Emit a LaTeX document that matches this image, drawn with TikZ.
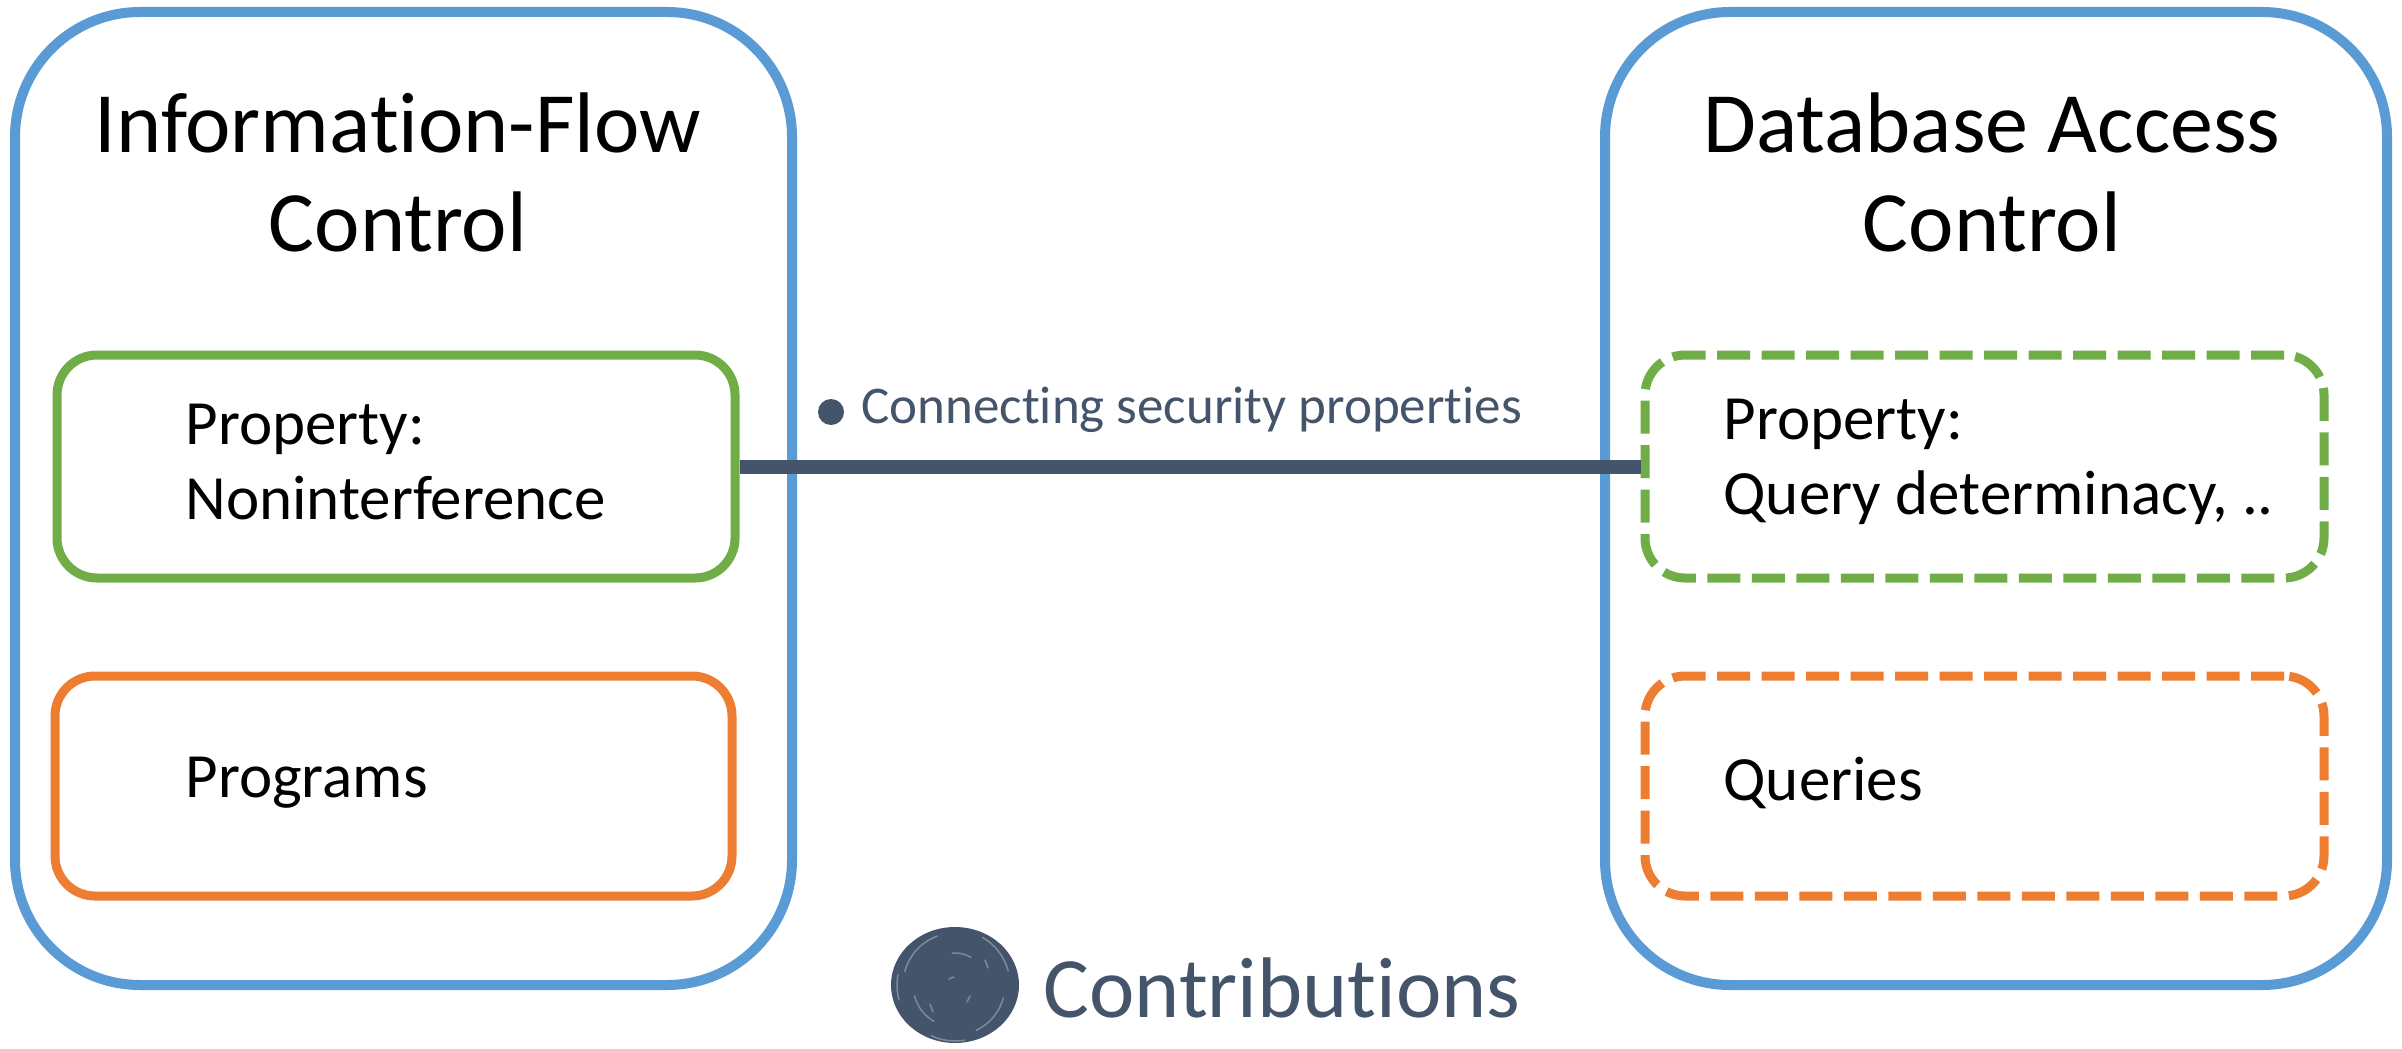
\documentclass[tikz,border=0pt]{standalone}
\usepackage{fontspec}
\setmainfont{Carlito}[Ligatures=NoCommon]
\definecolor{frameblue}{HTML}{5B9BD5}
\definecolor{propgreen}{HTML}{70AD47}
\definecolor{langorange}{HTML}{ED7D31}
\definecolor{slate}{HTML}{44546A}
\definecolor{slatelight}{HTML}{A3AEBE}
\tikzset{
  area/.style={draw=frameblue, line width=10pt, rounded corners=125pt, minimum width=#1},
  innerbox/.style={line width=9pt, rounded corners=40pt},
  dashbox/.style={innerbox, dash pattern=on 33pt off 11.5pt},
  title/.style={font=\fontsize{86}{99}\selectfont, align=center, text=black},
  body/.style={font=\fontsize{63}{75}\selectfont, align=left, anchor=west, text=black},
}
\begin{document}
\begin{tikzpicture}[x=1pt, y=-1pt]
\useasboundingbox (0,0) rectangle (2402,1049);
\fill[white] (0,0) rectangle (2402,1049);

% the two fields
\node[area=777pt, minimum height=973pt] (ifc) at (403.5,498.5) {};
\node[area=782pt, minimum height=973pt] (dac) at (1996,498.5) {};
\node[title] (ifctitle) at (398,172) {Information-Flow\\Control};
\node[title] (dactitle) at (1992,172) {Database Access\\Control};

% properties and languages, left side
\node[innerbox, draw=propgreen, minimum width=678pt, minimum height=223pt] (ifprop) at (396,466.5) {};
\node[innerbox, draw=langorange, minimum width=677pt, minimum height=220pt] (iflang) at (393.5,786) {};
\node[body] (ifproptext) at (182,462) {Property:\\Noninterference};
\node[body] (iflangtext) at (182,783) {Programs};

% properties and languages, right side
\node[dashbox, draw=propgreen, minimum width=679pt, minimum height=223pt] (dbprop) at (1984.5,466.5) {};
\node[dashbox, draw=langorange, minimum width=679pt, minimum height=220pt] (dblang) at (1984.5,786) {};
\node[body] (dbproptext) at (1720,462) {Property:\\Query determinacy, ..};
\node[body] (dblangtext) at (1720,783) {Queries};

% the connection
\draw[slate, line width=14pt] (ifprop.east) -- (dbprop.west);
\fill[slate] (831,412) circle (13pt);
\node[anchor=west, text=slate, font=\fontsize{53}{60}\selectfont] (conn) at (858,410) {Connecting security properties};

% legend: a hand-shaded disc
\fill[slate] (955,985) ellipse (64pt and 58pt);
\begin{scope}[slatelight, opacity=0.6, line width=1.5pt, line cap=round]
  \draw (955,985) ++(110:52pt) arc (110:165:52pt);
  \draw (955,985) ++(295:50pt) arc (295:345:50pt);
  \draw (955,985) ++(15:55pt) arc (15:60:55pt);
  \draw (955,985) ++(195:42pt) arc (195:240:42pt);
  \draw (955,985) ++(60:32pt) arc (60:95:32pt);
  \draw (955,985) ++(245:56pt) arc (245:280:56pt);
  \draw (955,985) ++(170:58pt) arc (170:195:58pt);
  \draw (949,979) -- (954,977);
  \draw (967,1002) -- (970,996);
  \draw (930,1004) -- (933,1012);
  \draw (985,960) -- (988,968);
\end{scope}
\node[anchor=west, text=slate, font=\fontsize{86}{100}\selectfont] (contrib) at (1040,988) {Contributions};
\end{tikzpicture}
\end{document}
